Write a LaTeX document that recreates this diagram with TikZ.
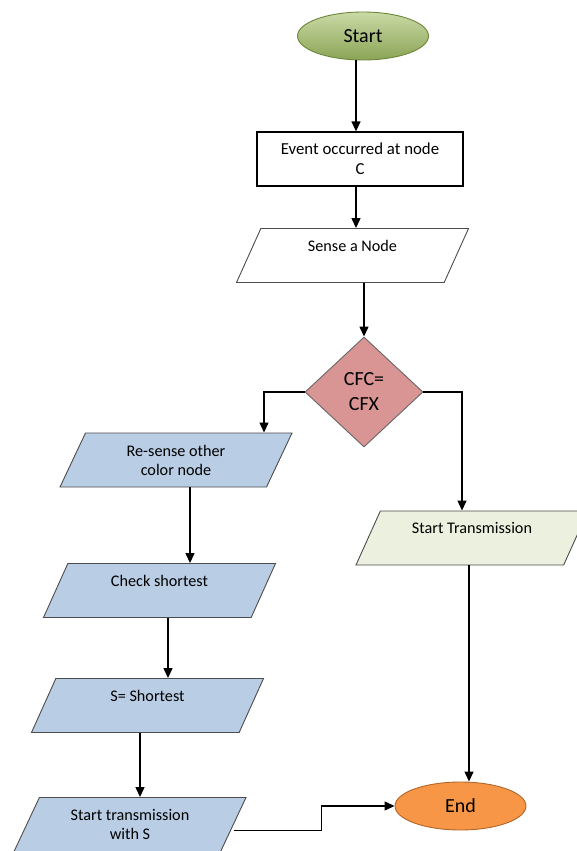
\documentclass[tikz,border=0pt]{standalone}
\usepackage{fontspec}
\setmainfont{Carlito}
\usetikzlibrary{shapes.geometric,arrows.meta}
\definecolor{startlight}{HTML}{CADAA6}
\definecolor{startdark}{HTML}{8BA456}
\definecolor{startline}{HTML}{6C8539}
\definecolor{cfcred}{HTML}{D99594}
\definecolor{ioblue}{HTML}{B9CDE5}
\definecolor{iogreen}{HTML}{EBF1DE}
\definecolor{endorange}{HTML}{F79646}
\definecolor{endline}{HTML}{B0662A}

\begin{document}
\begin{tikzpicture}[x=1pt, y=-1pt,
			arr/.style={line width=1.3pt, -{Triangle[length=10pt,width=9pt]}},
			terminal/.style={ellipse, line width=0.9pt, minimum width=131pt, minimum height=48pt, inner sep=0pt, font=\fontsize{20}{24}\selectfont},
			iobox/.style={trapezium, trapezium left angle=50, trapezium right angle=130, trapezium stretches body, draw=black!70, line width=0.9pt, minimum width=232pt, minimum height=54pt, inner sep=0pt, align=center, font=\fontsize{16.2}{19}\selectfont},
			toptext/.style={text height=10pt, text depth=19pt}]
			\useasboundingbox (0,0) rectangle (577,851);
			\clip (0,0) rectangle (577,851);
			
			\node[terminal, draw=startline, top color=startlight, bottom color=startdark] (start) at (363,36) {Start};
			\node[draw=black, line width=1.3pt, minimum width=206pt, minimum height=54pt, align=center, font=\fontsize{16.8}{20}\selectfont] (event) at (360,159) {Event occurred at node\\C};
			\node[iobox, toptext, fill=white] (sense) at (352.5,255.5) {Sense a Node};
			\node[diamond, draw=black!60, fill=cfcred, line width=0.9pt, minimum width=118pt, minimum height=110pt, inner sep=0pt, align=center, font=\fontsize{20}{25}\selectfont] (cfc) at (364,392) {CFC=\\CFX};
			
			\node[iobox, fill=ioblue] (resense) at (176,460) {Re-sense other\\color node};
			\node[iobox, toptext, fill=ioblue] (check) at (159.5,590.5) {Check shortest};
			\node[iobox, toptext, fill=ioblue] (shortest) at (147.5,705.5) {S= Shortest};
			\node[iobox, fill=ioblue] (sendS) at (130,824.5) {Start transmission\\with S};
			
			\node[iobox, toptext, fill=iogreen] (trans) at (472,538) {Start Transmission};
			\node[terminal, draw=endline, fill=endorange] (finish) at (460.5,806) {End};
			
			\draw[arr] ([xshift=-4pt]event.north |- start.south) -- ([xshift=-4pt]event.north);
			\draw[arr] ([xshift=-4pt]event.south) -- ([xshift=-4pt]event.south |- sense.north);
			\draw[arr] (sense.south -| cfc.north) -- (cfc.north);
			\draw[arr] (cfc.west) -| ([xshift=88pt]resense.north);
			\draw[arr] (cfc.east) -| ([xshift=-10pt]trans.north);
			
			\draw[arr] ([xshift=14pt]resense.south) -- ([xshift=14pt]resense.south |- check.north);
			\draw[arr] ([xshift=8.5pt]check.south) -- ([xshift=8.5pt]check.south |- shortest.north);
			\draw[arr] ([xshift=-7.5pt]shortest.south) -- ([xshift=-7.5pt]shortest.south |- sendS.north);
			\draw[arr] ([yshift=-6pt]sendS.east) -- ++(88,0) |- (finish.west);
			\draw[arr] ([xshift=-3pt]trans.south) -- ([xshift=-3pt]trans.south |- finish.north);
\end{tikzpicture}
\end{document}
